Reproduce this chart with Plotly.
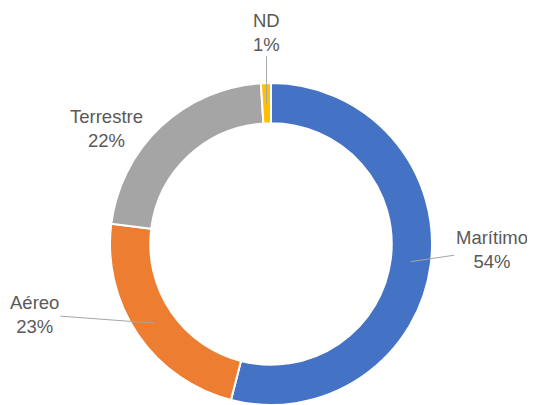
import math
import plotly.graph_objects as go

labels = ["Marítimo", "Aéreo", "Terrestre", "ND"]
values = [54, 23, 22, 1]
colors = ["#4472C4", "#ED7D31", "#A5A5A5", "#FFC000"]

# page body has an 8px margin, so the figure is sized to end at the window edge
W, H = 527, 397
cx, cy, r_out = 263, 236, 161
hole = 0.75

# offset of each label (px) from the point where its leader line touches the ring
label_offsets = {
    "Marítimo": (81, -12, True),
    "Aéreo": (-120, -9, True),
    "Terrestre": (-68, -13, False),
    "ND": (0, -71, True),
}

fig = go.Figure(go.Pie(
    labels=labels,
    values=values,
    hole=hole,
    sort=False,
    direction="clockwise",
    rotation=0,
    marker=dict(colors=colors, line=dict(color="white", width=2)),
    textinfo="none",
    hoverinfo="label+percent",
    showlegend=False,
    domain=dict(x=[(cx - r_out) / W, (cx + r_out) / W], y=[0, 1 - (cy - r_out) / H]),
))

total = sum(values)
r_mid = r_out * (1 + hole) / 2
cum = 0
annotations = []
for lab, v in zip(labels, values):
    mid = (cum + v / 2) / total * 2 * math.pi
    cum += v
    px = cx + r_mid * math.sin(mid)
    py = cy - r_mid * math.cos(mid)
    ax, ay, arrow = label_offsets[lab]
    pct = round(v / total * 100)
    a = dict(
        x=px / W, y=1 - py / H, xref="paper", yref="paper",
        xanchor="center", yanchor="middle",
        text=f"{lab}<br>{pct}%",
        font=dict(family="Liberation Sans, Arial", size=18.5, color="#595959"),
        align="center",
    )
    if arrow:
        a.update(showarrow=True, ax=ax, ay=ay, arrowhead=0, arrowwidth=1,
                 arrowcolor="#A6A6A6", standoff=0, startstandoff=0)
    else:
        a.update(showarrow=False, xshift=ax, yshift=-ay)
    annotations.append(a)

fig.update_layout(
    width=W, height=H,
    margin=dict(l=0, r=0, t=0, b=0),
    paper_bgcolor="white",
    annotations=annotations,
)

fig.write_html("out.html")
